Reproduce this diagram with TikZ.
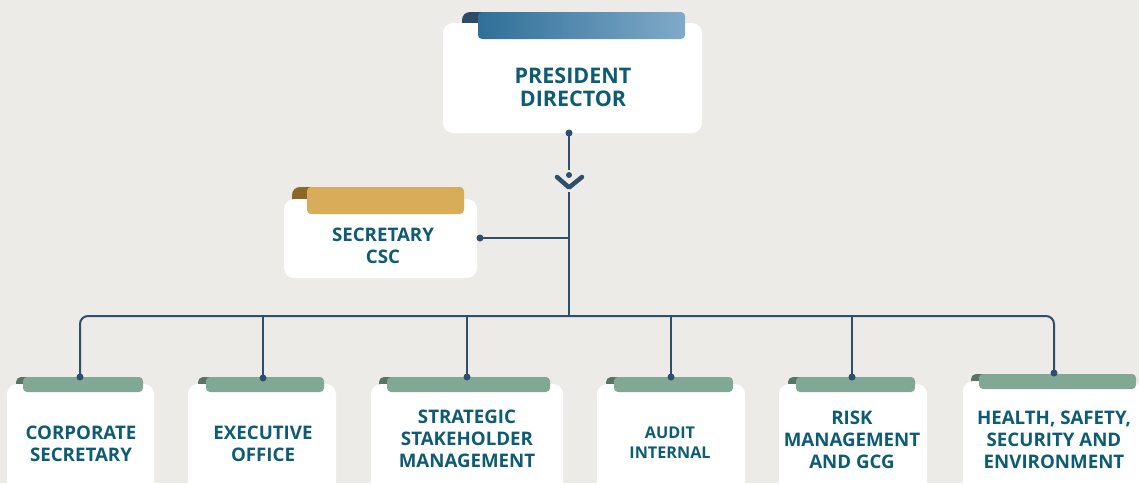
\documentclass[tikz,border=0pt]{standalone}
\usepackage{fontspec}
\setmainfont{Open Sans}
\definecolor{bg}{HTML}{EDEBE7}
\definecolor{txt}{HTML}{0E5B74}
\definecolor{ln}{HTML}{2D4E6C}
\definecolor{gold}{HTML}{D7AD5A}
\definecolor{goldd}{HTML}{8C6726}
\definecolor{grn}{HTML}{80A894}
\definecolor{grnd}{HTML}{587464}
\definecolor{bl1}{HTML}{2F6F98}
\definecolor{bl2}{HTML}{80AAC9}
\definecolor{bld}{HTML}{2E4A69}
\tikzset{
  card/.style={fill=white, draw=none, rounded corners=10pt, inner sep=0pt},
  lbl/.style={text=txt, align=center, font=\bfseries\fontsize{18.7}{22}\selectfont, inner sep=0pt},
  conn/.style={draw=ln, line width=2pt},
  dotc/.style={fill=ln},
}
% curl at left of tab: #1 x-left, #2 top y, #3 bottom y, #4 colour, #5 radius
\newcommand{\tabcurl}[5]{\fill[#4] (#1,#3+4) [rounded corners=#5pt] -- (#1,#2) [sharp corners] -- (#1+22,#2) -- (#1+22,#3+4) -- cycle;}
\begin{document}
\begin{tikzpicture}[x=1pt,y=-1pt]
\fill[bg] (0,0) rectangle (1139,483);
\useasboundingbox (0,0) rectangle (1139,483);
\clip (0,0) rectangle (1139,483);

% ---------- President Director ----------
\tabcurl{462}{12}{24}{bld}{8}
\node[card, minimum width=259pt, minimum height=110pt] (pd) at (572.5,78) {};
\shade[left color=bl1, right color=bl2, rounded corners=4pt] (478,12) rectangle (685,39);
\node[lbl, font=\bfseries\fontsize{21.5}{23.5}\selectfont] (pdT) at (573,87.5) {PRESIDENT\\DIRECTOR};

% ---------- Secretary CSC ----------
\tabcurl{292}{187}{200}{goldd}{8}
\node[card, minimum width=193pt, minimum height=79pt] (sc) at (380.5,238.5) {};
\fill[gold, rounded corners=4pt] (307,187) rectangle (464,214);
\node[lbl] (scT) at (383,246) {SECRETARY\\CSC};

% ---------- bottom row ----------
% corporate secretary
\tabcurl{16}{377}{385}{grnd}{5}
\node[card, minimum width=147pt, minimum height=130pt] (b1) at (80.5,449) {};
\fill[grn, rounded corners=4pt] (23,377) rectangle (143,392);
\node[lbl] (b1T) at (81,444) {CORPORATE\\SECRETARY};
% executive office
\tabcurl{198}{377}{385}{grnd}{5}
\node[card, minimum width=148pt, minimum height=130pt] (b2) at (262,449) {};
\fill[grn, rounded corners=4pt] (206,377) rectangle (324,392);
\node[lbl] (b2T) at (263,444) {EXECUTIVE\\OFFICE};
% strategic stakeholder management
\tabcurl{379}{377}{385}{grnd}{5}
\node[card, minimum width=192pt, minimum height=130pt] (b3) at (467,449) {};
\fill[grn, rounded corners=4pt] (387,377) rectangle (550,392);
\node[lbl] (b3T) at (467,438.5) {STRATEGIC\\STAKEHOLDER\\MANAGEMENT};
% audit internal
\tabcurl{606}{377}{385}{grnd}{5}
\node[card, minimum width=148pt, minimum height=130pt] (b4) at (671,449) {};
\fill[grn, rounded corners=4pt] (614,377) rectangle (733,392);
\node[lbl, font=\bfseries\fontsize{16.2}{19.5}\selectfont] (b4T) at (670,442.5) {AUDIT\\INTERNAL};
% risk management and gcg
\tabcurl{788}{377}{385}{grnd}{5}
\node[card, minimum width=148pt, minimum height=130pt] (b5) at (853,449) {};
\fill[grn, rounded corners=4pt] (796,377) rectangle (915,392);
\node[lbl] (b5T) at (852,439.5) {RISK\\MANAGEMENT\\AND GCG};
% hsse
\tabcurl{971}{374}{382}{grnd}{5}
\node[card, minimum width=178pt, minimum height=130pt] (b6) at (1052,446) {};
\fill[grn, rounded corners=4pt] (979,374) rectangle (1136,389);
\node[lbl] (b6T) at (1054,439.5) {HEALTH, SAFETY,\\SECURITY AND\\ENVIRONMENT};

% ---------- connectors ----------
\coordinate (pdDot) at (569,133);
\coordinate (arrTop) at (569,170);
\coordinate (arrDot) at (569,175);
\coordinate (arrL) at (557,177);
\coordinate (arrTip) at (569,187.5);
\coordinate (arrR) at (582,177);
\coordinate (trunkTop) at (569,192);
\coordinate (scJ) at (569,238);
\coordinate (scDot) at (480,238);
\coordinate (busMid) at (569,316);
\coordinate (d1) at (80,377);
\coordinate (d2) at (263,378);
\coordinate (d3) at (467,377);
\coordinate (d4) at (671,377);
\coordinate (d5) at (852,377);
\coordinate (d6) at (1054,373);

\draw[conn] (pdDot) -- (arrTop);
\draw[ln, line width=4.5pt, line cap=round, line join=round] (arrL) -- (arrTip) -- (arrR);
\draw[conn] (trunkTop) -- (busMid);
\draw[conn] (scDot) -- (scJ);
\draw[conn, rounded corners=8pt] (d1) |- (busMid) -| (d6);
\foreach \d in {d2,d3,d4,d5} \draw[conn] (\d) -- (\d |- busMid);

\foreach \d/\r in {pdDot/3.5,arrDot/3,scDot/3.5,d1/3.5,d2/3.5,d3/3.5,d4/3.5,d5/3.5,d6/3.5}
  \fill[dotc] (\d) circle[radius=\r pt];
\end{tikzpicture}
\end{document}
